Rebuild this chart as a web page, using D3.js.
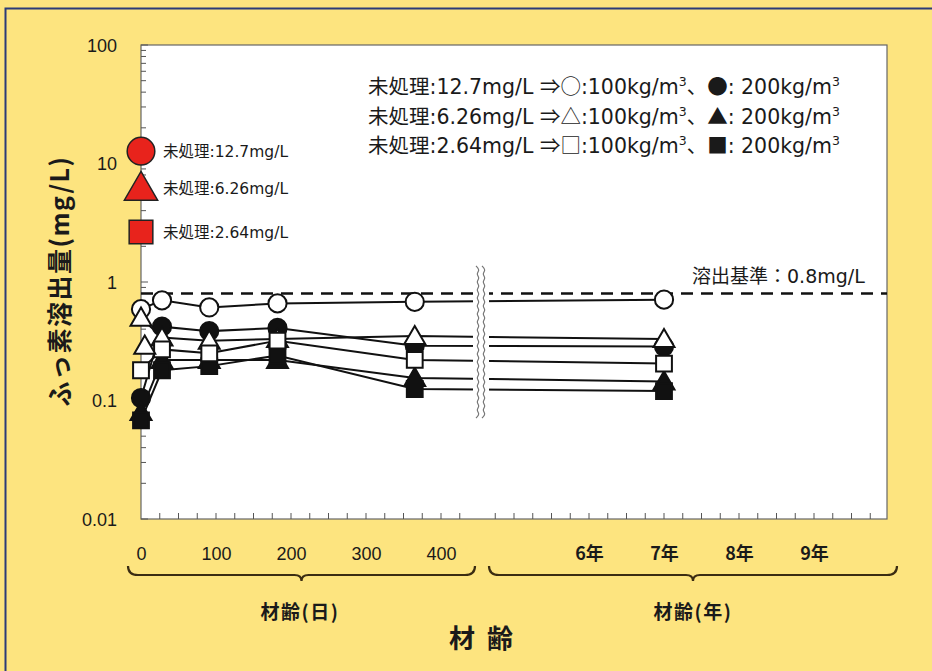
<!DOCTYPE html>
<html>
<head>
<meta charset="utf-8">
<script src="https://cdn.jsdelivr.net/npm/d3@7"></script>
<style>
  html, body { margin: 0; padding: 0; background: #fde47f; }
  svg { display: block; }
  text { font-family: "Liberation Sans", Arial, sans-serif; fill: #1a1a1a; }
  .jp { font-family: "Noto Sans CJK JP", "Noto Sans", sans-serif; }
  .mix { font-family: "DejaVu Sans", "Noto Sans CJK JP", sans-serif; }
</style>
</head>
<body>
<div id="chart"></div>
<script>
// --- data ---
const dayTimes = [0, 28, 91, 182, 365];   // 材齢(日)
const yearTimes = [7];                    // 材齢(年)

// fluoride leaching (mg/L), one value per time above
const circle100 = [0.59, 0.70, 0.61, 0.66, 0.68, 0.71];
const circle200 = [0.105, 0.42, 0.385, 0.41, 0.29, 0.285];
const triangle100 = [0.50, 0.34, 0.32, 0.33, 0.35, 0.33];
const triangle200 = [0.08, 0.22, 0.22, 0.22, 0.155, 0.145];
const square100 = [0.18, 0.27, 0.25, 0.32, 0.22, 0.205];
const square200 = [0.068, 0.18, 0.195, 0.24, 0.125, 0.12];
// an extra open triangle plotted just after day 0
const extraTriangleDay = [5];
const extraTriangleValue = [0.29];

// untreated soil values shown in red on the axis
const untreatedLabels = ['12.7', '6.26', '2.64'];
const untreatedValues = [12.7, 6.26, 2.64];
const untreatedShapes = ['circle', 'triangle', 'square'];

const limitValue = 0.8;
const yTicks = [0.01, 0.1, 1, 10, 100];
const dayTicks = [0, 100, 200, 300, 400];
const yearTicks = [6, 7, 8, 9];

const W = 932, H = 671;
const plot = { left: 141, right: 887, top: 45, bottom: 519 };

const svg = d3.select('#chart').append('svg')
  .attr('width', W)
  .attr('height', H);

// yellow panel with dark frame
svg.append('rect')
  .attr('x', 0).attr('y', 0).attr('width', W).attr('height', H)
  .attr('fill', '#fde47f');
svg.append('rect')
  .attr('x', 5.5).attr('y', 8.5).attr('width', W + 20).attr('height', H + 20)
  .attr('fill', 'none')
  .attr('stroke', '#2b3b78')
  .attr('stroke-width', 2);

// scales
const y = d3.scaleLog().domain([0.01, 100]).range([plot.bottom, plot.top]);
const xDay = d3.scaleLinear().domain([0, 400]).range([plot.left, plot.left + 300]);
const xYear = d3.scaleLinear().domain([6, 9]).range([589, 814]);

const xAt = i => i < dayTimes.length ? xDay(dayTimes[i]) : xYear(yearTimes[i - dayTimes.length]);

// plot area
svg.append('rect')
  .attr('x', plot.left).attr('y', plot.top)
  .attr('width', plot.right - plot.left).attr('height', plot.bottom - plot.top)
  .attr('fill', '#fff')
  .attr('stroke', '#666')
  .attr('stroke-width', 1.2);

// left axis: labels outside, ticks inside
const yAxis = d3.axisLeft(y)
  .tickValues(yTicks)
  .tickSize(0)
  .tickPadding(24)
  .tickFormat(d => d >= 1 ? d3.format('d')(d) : String(d));
const gy = svg.append('g')
  .attr('transform', `translate(${plot.left},0)`)
  .call(yAxis);
gy.select('.domain').remove();
gy.selectAll('text').attr('font-size', 18).attr('dy', '0.35em');

const minorY = [];
yTicks.slice(0, -1).forEach(d => {
  for (let k = 1; k <= 9; k++) minorY.push({ v: d * k, major: k === 1 });
});
minorY.push({ v: 100, major: true });
svg.append('g').selectAll('line')
  .data(minorY)
  .enter().append('line')
  .attr('x1', plot.left)
  .attr('x2', d => plot.left + (d.major ? 7 : 5))
  .attr('y1', d => y(d.v)).attr('y2', d => y(d.v))
  .attr('stroke', '#555')
  .attr('stroke-width', 1);

// bottom ticks, pointing up into the plot
const dayMinor = d3.range(25, 450, 25);
const yearMinor = d3.range(4.75, 9.8, 0.25);
const bottomTicks = dayMinor.map(xDay).concat(yearMinor.map(xYear));
svg.append('g').selectAll('line')
  .data(bottomTicks)
  .enter().append('line')
  .attr('x1', d => d).attr('x2', d => d)
  .attr('y1', plot.bottom).attr('y2', plot.bottom - 6)
  .attr('stroke', '#555')
  .attr('stroke-width', 1);

// bottom labels
const gxd = svg.append('g')
  .attr('transform', `translate(0,${plot.bottom})`)
  .call(d3.axisBottom(xDay).tickValues(dayTicks).tickSize(0).tickPadding(28));
gxd.select('.domain').remove();
gxd.selectAll('text').attr('font-size', 18);

const gxy = svg.append('g')
  .attr('transform', `translate(0,${plot.bottom})`)
  .call(d3.axisBottom(xYear).tickValues(yearTicks).tickSize(0).tickPadding(28)
    .tickFormat(d => d + '年'));
gxy.select('.domain').remove();
gxy.selectAll('text')
  .attr('class', 'jp')
  .attr('font-size', 18)
  .attr('font-weight', 'bold');

// dashed leaching standard
svg.append('line')
  .attr('x1', plot.left).attr('x2', plot.right)
  .attr('y1', y(limitValue)).attr('y2', y(limitValue))
  .attr('stroke', '#111')
  .attr('stroke-width', 2.5)
  .attr('stroke-dasharray', '12,8');
svg.append('text')
  .attr('class', 'mix')
  .attr('x', 692)
  .attr('y', y(limitValue) - 10)
  .attr('font-size', 19)
  .text('溶出基準：0.8mg/L');

// series
const series = [
  { values: circle200, shape: 'circle', filled: true },
  { values: circle100, shape: 'circle', filled: false },
  { values: triangle200, shape: 'triangle', filled: true },
  { values: triangle100, shape: 'triangle', filled: false },
  { values: square200, shape: 'square', filled: true },
  { values: square100, shape: 'square', filled: false }
];

const symbolFor = {
  circle: d3.symbolCircle,
  triangle: d3.symbolTriangle,
  square: d3.symbolSquare
};
const sizeFor = { circle: 260, triangle: 190, square: 250 };

const line = d3.line()
  .x((d, i) => xAt(i))
  .y(d => y(d));

const lineLayer = svg.append('g');
series.forEach(s => {
  lineLayer.append('path')
    .datum(s.values)
    .attr('d', line)
    .attr('fill', 'none')
    .attr('stroke', '#111')
    .attr('stroke-width', 2);
});

// break in the axis
const brk = { x: 481, top: 266, bottom: 420 };
svg.append('rect')
  .attr('x', brk.x - 8).attr('y', brk.top)
  .attr('width', 16).attr('height', brk.bottom - brk.top)
  .attr('fill', '#fff');
const wave = d3.line().curve(d3.curveBasis);
[-3, 3].forEach(off => {
  const pts = d3.range(brk.top, brk.bottom + 1, 4)
    .map((yy, k) => [brk.x + off + (k % 2 ? 2 : -2), yy]);
  svg.append('path')
    .attr('d', wave(pts))
    .attr('fill', 'none')
    .attr('stroke', '#777')
    .attr('stroke-width', 1.2);
});

// markers
const markerLayer = svg.append('g');
series.forEach(s => {
  markerLayer.append('g').selectAll('path')
    .data(s.values)
    .enter().append('path')
    .attr('d', d3.symbol().type(symbolFor[s.shape]).size(sizeFor[s.shape]))
    .attr('transform', (d, i) => `translate(${xAt(i)},${y(d) + (s.shape === 'triangle' ? 2 : 0)})`)
    .attr('fill', s.filled ? '#111' : '#fff')
    .attr('stroke', '#111')
    .attr('stroke-width', 2);
});
markerLayer.append('g').selectAll('path')
  .data(extraTriangleValue)
  .enter().append('path')
  .attr('d', d3.symbol().type(d3.symbolTriangle).size(sizeFor.triangle))
  .attr('transform', (d, i) => `translate(${xDay(extraTriangleDay[i])},${y(d) + 2})`)
  .attr('fill', '#fff')
  .attr('stroke', '#111')
  .attr('stroke-width', 2);

// red untreated markers on the axis
const redSize = { circle: 600, triangle: 480, square: 560 };
const red = svg.append('g');
untreatedValues.forEach((v, i) => {
  const shape = untreatedShapes[i];
  red.append('path')
    .attr('d', d3.symbol().type(symbolFor[shape]).size(redSize[shape]))
    .attr('transform', `translate(${plot.left},${y(v) + (shape === 'triangle' ? 3 : 0)})`)
    .attr('fill', '#e8231c')
    .attr('stroke', '#222')
    .attr('stroke-width', 1.5);
  red.append('text')
    .attr('class', 'mix')
    .attr('x', plot.left + 22)
    .attr('y', y(v) + 6)
    .attr('font-size', 15.5)
    .text(`未処理:${untreatedLabels[i]}mg/L`);
});

// legend, top right
const legendRows = [
  { v: '12.7', open: '○', fill: '●' },
  { v: '6.26', open: '△', fill: '▲' },
  { v: '2.64', open: '□', fill: '■' }
];
legendRows.forEach((r, i) => {
  const t = svg.append('text')
    .attr('class', 'mix')
    .attr('x', 368)
    .attr('y', 94 + i * 29.5)
    .attr('font-size', 20.5);
  t.append('tspan').text(`未処理:${r.v}mg/L `);
  t.append('tspan').attr('class', 'jp').text(`⇒${r.open}`);
  t.append('tspan').text(':100kg/m');
  t.append('tspan').attr('font-size', 12.5).attr('dy', -8).text('3');
  t.append('tspan').attr('dy', 8).text('、');
  t.append('tspan').attr('class', 'jp').text(r.fill);
  t.append('tspan').text(': 200kg/m');
  t.append('tspan').attr('font-size', 12.5).attr('dy', -8).text('3');
});

// y title
svg.append('text')
  .attr('class', 'jp')
  .attr('transform', 'translate(69,281) rotate(-90)')
  .attr('text-anchor', 'middle')
  .attr('font-size', 25)
  .attr('font-weight', 'bold')
  .attr('letter-spacing', 1.5)
  .text('ふっ素溶出量(mg/L)');

// braces under the x axis
function brace(x0, x1, yTop) {
  const mid = (x0 + x1) / 2;
  const yl = yTop + 9;
  return `M${x0},${yTop} Q${x0},${yl} ${x0 + 10},${yl} L${mid - 7},${yl} Q${mid},${yl} ${mid},${yl + 6}` +
    ` Q${mid},${yl} ${mid + 7},${yl} L${x1 - 10},${yl} Q${x1},${yl} ${x1},${yTop}`;
}
[[128, 475], [489, 897]].forEach(([a, b]) => {
  svg.append('path')
    .attr('d', brace(a, b, 566))
    .attr('fill', 'none')
    .attr('stroke', '#3b2c12')
    .attr('stroke-width', 2.2);
});

svg.append('text')
  .attr('class', 'jp')
  .attr('x', 300).attr('y', 619)
  .attr('text-anchor', 'middle')
  .attr('font-size', 19)
  .attr('font-weight', 'bold')
  .attr('letter-spacing', 1.5)
  .text('材齢(日)');
svg.append('text')
  .attr('class', 'jp')
  .attr('x', 693).attr('y', 619)
  .attr('text-anchor', 'middle')
  .attr('font-size', 19)
  .attr('font-weight', 'bold')
  .attr('letter-spacing', 1.5)
  .text('材齢(年)');
svg.append('text')
  .attr('class', 'jp')
  .attr('x', 487).attr('y', 648)
  .attr('text-anchor', 'middle')
  .attr('font-size', 26)
  .attr('font-weight', 'bold')
  .attr('letter-spacing', 12)
  .text('材齢');
</script>
</body>
</html>
